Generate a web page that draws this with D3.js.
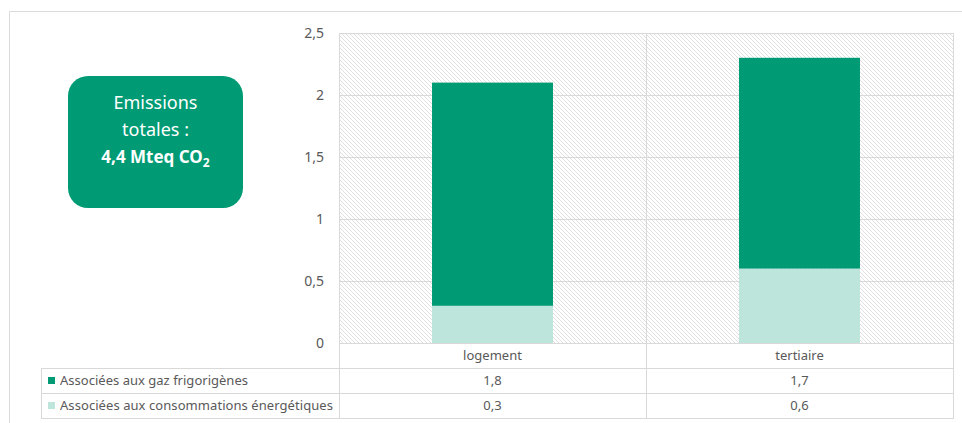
<!DOCTYPE html>
<head>
<meta charset="utf-8">
<script src="https://d3js.org/d3.v7.min.js"></script>
<style>
  body { margin: 0; background: #fff; font-family: "Noto Sans", Arial, sans-serif; }
  text { fill: #595959; }
</style>
</head>
<body>
<div id="vis"></div>
<script>
// data
var categories = ["logement", "tertiaire"];
var seriesNames = ["Associées aux gaz frigorigènes", "Associées aux consommations énergétiques"];
var gazValues = [1.8, 1.7];
var energieValues = [0.3, 0.6];
var yTicks = [0, 0.5, 1, 1.5, 2, 2.5];
var boxLines = ["Emissions", "totales :"];
var boxTotal = "4,4 Mteq CO";

var colors = ["#009b74", "#bde5db"];
var fmt = function(d) { return String(d).replace(".", ","); };

var W = 962, H = 423;
var plot = {left: 339, right: 953, top: 33, bottom: 343};
var tableLeft = 41, rowH = 25;

var svg = d3.select("#vis").append("svg")
    .attr("width", W).attr("height", H);

var defs = svg.append("defs");
defs.append("pattern")
    .attr("id", "hatch")
    .attr("patternUnits", "userSpaceOnUse")
    .attr("width", 4).attr("height", 4)
  .append("path")
    .attr("d", "M-1,-1L5,5M-1,3L1,5M3,-1L5,1")
    .attr("stroke", "#e0e0e0")
    .attr("stroke-width", 1);

// outer frame
svg.append("path")
    .attr("d", "M9.5," + H + "V11.5H" + W)
    .attr("fill", "none")
    .attr("stroke", "#dadada");

var x = d3.scaleBand()
    .domain(categories)
    .range([plot.left, plot.right]);

var y = d3.scaleLinear()
    .domain([0, 2.5])
    .range([plot.bottom, plot.top]);

// hatched background
svg.append("rect")
    .attr("x", plot.left).attr("y", plot.top)
    .attr("width", plot.right - plot.left)
    .attr("height", plot.bottom - plot.top)
    .attr("fill", "url(#hatch)");

// gridlines
svg.append("g")
    .selectAll("line")
    .data(yTicks)
    .join("line")
    .attr("x1", plot.left).attr("x2", plot.right)
    .attr("y1", function(d) { return Math.round(y(d)) + 0.5; })
    .attr("y2", function(d) { return Math.round(y(d)) + 0.5; })
    .attr("stroke", "#d9d9d9");

// y axis labels
var yAxis = d3.axisLeft(y).tickValues(yTicks).tickFormat(fmt).tickSize(0).tickPadding(15);
var gy = svg.append("g")
    .attr("transform", "translate(" + plot.left + ",0)")
    .call(yAxis);
gy.select(".domain").remove();
gy.selectAll("text")
    .attr("font-size", 14)
    .attr("font-family", "Noto Sans")
    .attr("fill", "#595959");

// stacked bars
var stackData = categories.map(function(c, i) {
  return {cat: c, energie: energieValues[i], gaz: gazValues[i]};
});
var stack = d3.stack().keys(["energie", "gaz"]);
var layers = stack(stackData);
var barW = x.bandwidth() * 0.394;

svg.append("g")
    .selectAll("g")
    .data(layers)
    .join("g")
    .attr("fill", function(d) { return d.key === "gaz" ? colors[0] : colors[1]; })
    .selectAll("rect")
    .data(function(d) { return d; })
    .join("rect")
    .attr("x", function(d) { return x(d.data.cat) + (x.bandwidth() - barW) / 2; })
    .attr("width", barW)
    .attr("y", function(d) { return y(d[1]); })
    .attr("height", function(d) { return y(d[0]) - y(d[1]); });

// data table
var table = svg.append("g").attr("stroke", "#d9d9d9").attr("fill", "none");
var tBottom = plot.bottom + rowH * 3;
// vertical lines
table.append("line")
    .attr("x1", plot.left + 0.5).attr("x2", plot.left + 0.5)
    .attr("y1", plot.top).attr("y2", tBottom);
table.append("line")
    .attr("x1", x("tertiaire") + 0.5).attr("x2", x("tertiaire") + 0.5)
    .attr("y1", plot.top).attr("y2", tBottom);
table.append("line")
    .attr("x1", plot.right + 0.5).attr("x2", plot.right + 0.5)
    .attr("y1", plot.top).attr("y2", tBottom);
table.append("line")
    .attr("x1", tableLeft + 0.5).attr("x2", tableLeft + 0.5)
    .attr("y1", plot.bottom + rowH).attr("y2", tBottom);
table.append("line")
    .attr("x1", plot.left).attr("x2", plot.right)
    .attr("y1", plot.top + 0.5).attr("y2", plot.top + 0.5);
[1, 2, 3].forEach(function(r) {
  table.append("line")
      .attr("x1", tableLeft).attr("x2", plot.right + 1)
      .attr("y1", plot.bottom + rowH * r + 0.5)
      .attr("y2", plot.bottom + rowH * r + 0.5);
});
table.append("line")
    .attr("x1", plot.left).attr("x2", plot.right + 1)
    .attr("y1", plot.bottom + 0.5).attr("y2", plot.bottom + 0.5);

// category labels
svg.append("g")
    .selectAll("text")
    .data(categories)
    .join("text")
    .attr("x", function(d) { return x(d) + x.bandwidth() / 2; })
    .attr("y", plot.bottom + rowH / 2)
    .attr("dy", "0.35em")
    .attr("text-anchor", "middle")
    .attr("font-size", 13)
    .text(function(d) { return d; });

// table rows
var rows = [gazValues, energieValues];
rows.forEach(function(vals, r) {
  var cy = plot.bottom + rowH * (r + 1) + rowH / 2;
  svg.append("rect")
      .attr("x", 48).attr("y", cy - 3.5)
      .attr("width", 7).attr("height", 7)
      .attr("fill", colors[r]);
  svg.append("text")
      .attr("x", 60).attr("y", cy).attr("dy", "0.35em")
      .attr("font-size", 13)
      .attr("textLength", r === 0 ? 188 : 273)
      .text(seriesNames[r]);
  svg.append("g")
      .selectAll("text")
      .data(vals)
      .join("text")
      .attr("x", function(d, i) { return x(categories[i]) + x.bandwidth() / 2; })
      .attr("y", cy).attr("dy", "0.35em")
      .attr("text-anchor", "middle")
      .attr("font-size", 13)
      .text(fmt);
});

// total emissions box
svg.append("rect")
    .attr("x", 68).attr("y", 76)
    .attr("width", 175).attr("height", 132)
    .attr("rx", 20)
    .attr("fill", colors[0]);
svg.append("g")
    .selectAll("text")
    .data(boxLines)
    .join("text")
    .attr("x", 155.5)
    .attr("y", function(d, i) { return 103 + i * 27; })
    .attr("dy", "0.35em")
    .attr("text-anchor", "middle")
    .attr("font-size", 18)
    .style("fill", "#fff")
    .text(function(d) { return d; });
var tot = svg.append("text")
    .attr("x", 155.5).attr("y", 157).attr("dy", "0.35em")
    .attr("text-anchor", "middle")
    .attr("font-size", 17)
    .attr("font-weight", "bold")
    .style("fill", "#fff");
tot.append("tspan").text(boxTotal);
tot.append("tspan").attr("font-size", 12).attr("dy", "4").text("2");
</script>
</body>
